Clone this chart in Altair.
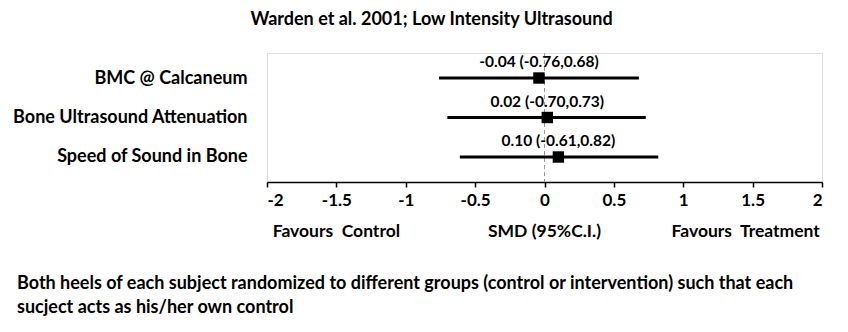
import altair as alt
import pandas as pd

rows = ["BMC @ Calcaneum", "Bone Ultrasound Attenuation", "Speed of Sound in Bone"]
est = [-0.04, 0.02, 0.10]
lo = [-0.76, -0.70, -0.61]
hi = [0.68, 0.73, 0.82]
ci_labels = ["-0.04 (-0.76,0.68)", "0.02 (-0.70,0.73)", "0.10 (-0.61,0.82)"]
x_ticks = [-2, -1.5, -1, -0.5, 0, 0.5, 1, 1.5, 2]
bottom_texts = ["Favours\u00a0\u00a0Control", "SMD (95%C.I.)", "Favours\u00a0\u00a0Treatment"]
bottom_pos = [-1.5, 0, 1.45]
title_text = "Warden et al. 2001; Low Intensity Ultrasound"
footnote = ("Both heels of each subject randomized to different groups (control or intervention) such that each\n"
            "sucject acts as his/her own control")

FONT = "Lato"

df = pd.DataFrame({"row": rows, "est": est, "lo": lo, "hi": hi, "label": ci_labels})

xscale = alt.Scale(domain=[-2, 2], nice=False, zero=False)
yscale = alt.Scale(type="point", padding=0.633)
xaxis = alt.Axis(values=x_ticks, labelExpr="toString(datum.value)", title=None, grid=False,
                 domainColor="black", domainWidth=1.5, tickColor="black", tickSize=5, tickWidth=1.5,
                 labelFont=FONT, labelFontSize=17, labelFontWeight="bold", labelColor="black",
                 labelPadding=5)
yaxis = alt.Axis(title=None, domain=False, ticks=False, grid=False, labelPadding=20, labelLimit=0,
                 labelFont=FONT, labelFontSize=18, labelFontWeight="bold", labelColor="black")

zero = alt.Chart(pd.DataFrame({"x": [0]})).mark_rule(strokeDash=[4, 3], color="#9a9a9a", strokeWidth=1).encode(
    x=alt.X("x:Q", scale=xscale, axis=xaxis)
)

ci = alt.Chart(df).mark_rule(color="black", strokeWidth=3).encode(
    x=alt.X("lo:Q", scale=xscale, axis=xaxis),
    x2="hi:Q",
    y=alt.Y("row:N", sort=rows, scale=yscale, axis=yaxis),
)

pts = alt.Chart(df).mark_square(size=130, color="black", opacity=1).encode(
    x=alt.X("est:Q", scale=xscale),
    y=alt.Y("row:N", sort=rows, scale=yscale),
)

lbl = alt.Chart(df).mark_text(dy=-16, font=FONT, fontSize=15.5, fontWeight="bold", color="black").encode(
    x=alt.X("est:Q", scale=xscale),
    y=alt.Y("row:N", sort=rows, scale=yscale),
    text="label:N",
)

bdf = pd.DataFrame({"t": bottom_texts, "x": bottom_pos})
btm = alt.Chart(bdf).mark_text(font=FONT, fontSize=17.5, fontWeight="bold", color="black", baseline="middle").encode(
    x=alt.X("x:Q", scale=xscale),
    y=alt.value(179),
    text="t:N",
)

fn = alt.Chart(pd.DataFrame({"t": [footnote]})).mark_text(
    font=FONT, fontSize=18, fontWeight="bold", color="black", align="left", baseline="top",
    lineBreak="\n", lineHeight=24,
).encode(x=alt.value(-250), y=alt.value(222), text="t:N")

chart = alt.layer(zero, ci, pts, lbl, btm, fn).properties(
    width=555, height=129,
    autosize=alt.AutoSizeParams(type="none"),
    padding={"left": 267, "top": 53, "right": 26, "bottom": 150},
    title=alt.TitleParams(title_text, font=FONT, fontSize=18, fontWeight="bold", color="black",
                          anchor="middle", frame="group", dx=-113, offset=24),
).configure_view(stroke=None).configure(background="white")

chart.save("out.html", embed_options={"renderer": "svg", "actions": False})
